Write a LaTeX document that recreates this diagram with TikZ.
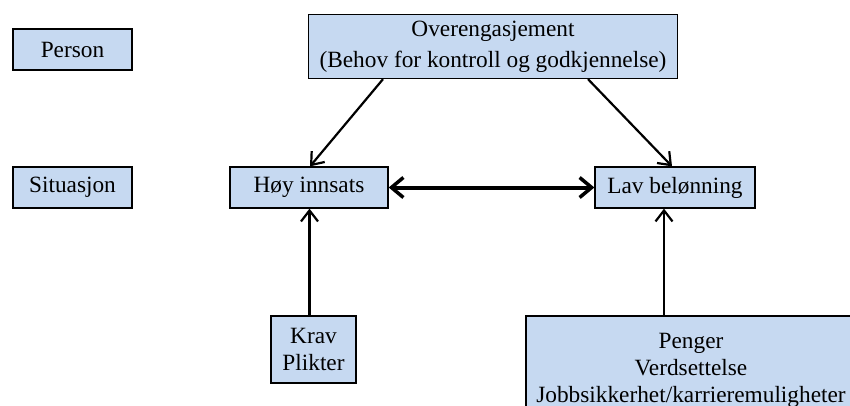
\documentclass[tikz,border=0pt]{standalone}
\usepackage{fontspec}
\setmainfont{Liberation Serif}
\usetikzlibrary{arrows.meta}
\definecolor{boxblue}{RGB}{198,217,241}

\begin{document}
\begin{tikzpicture}[x=1pt,y=-1pt,
    box/.style={draw, rectangle, fill=boxblue, line width=1.3pt, inner sep=0pt, align=center,
      font=\fontsize{23.3}{27}\selectfont},
    arr/.style={-{Straight Barb[length=11pt,width=17pt,line width=2.2pt]}, line width=2.2pt},
    thickarr/.style={{Straight Barb[length=12pt,width=20pt,line width=3.5pt]}-{Straight Barb[length=12pt,width=20pt,line width=3.5pt]}, line width=4pt}]
  \clip (0,0) rectangle (850,406);
  \node [box, minimum width=119, minimum height=41] (person) at (72.5, 49.5) {Person};
  \node [box, minimum width=119, minimum height=41] (situasjon) at (72.5, 187.5) {Situasjon};
  \node [box, minimum width=369, minimum height=64, font=\fontsize{23.3}{31}\selectfont] (over) at (493, 46.5) {Overengasjement\\(Behov for kontroll og godkjennelse)};
  \node [box, minimum width=158, minimum height=41] (hoy) at (309, 187.5) {Høy innsats};
  \node [box, minimum width=160, minimum height=41] (lav) at (675, 187.5) {Lav belønning};
  \node [box, minimum width=85, minimum height=67] (krav) at (313.5, 349.5) {Krav\\Plikter};
  \node [box, minimum width=330, minimum height=108] (penger) at (691, 370) {Penger\\Verdsettelse\\Jobbsikkerhet/karrieremuligheter};
  \draw [arr] ([xshift=-110]over.south) -- ([xshift=1]hoy.north);
  \draw [arr] ([xshift=95]over.south) -- ([xshift=-3]lav.north);
  \draw [thickarr] (hoy.east) -- (lav.west);
  \draw [arr] ([xshift=-4]krav.north) -- ([xshift=-4]krav.north |- hoy.south);
  \draw [arr] ([xshift=-27]penger.north) -- ([xshift=-27]penger.north |- lav.south);
\end{tikzpicture}
\end{document}
